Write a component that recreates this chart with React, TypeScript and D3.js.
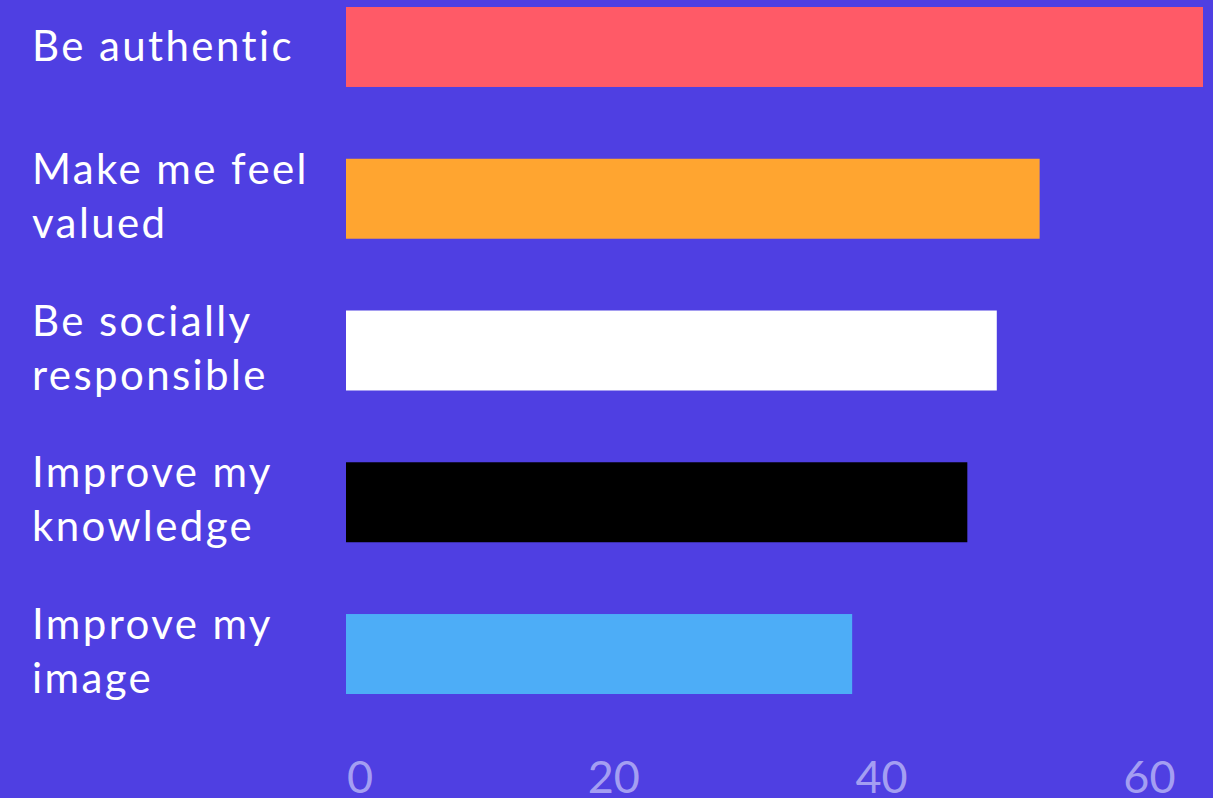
import React from "react";
import * as d3 from "d3";

const categories: string[][] = [
  ["Be authentic"],
  ["Make me feel", "valued"],
  ["Be socially", "responsible"],
  ["Improve my", "knowledge"],
  ["Improve my", "image"],
];
const values: number[] = [64, 51.8, 48.6, 46.4, 37.8];
const barColors: string[] = ["#FF5A67", "#FFA530", "#FFFFFF", "#000000", "#4DADF7"];
const tickValues: number[] = [0, 20, 40, 60];

const W = 1213;
const H = 798;
const BG = "#4F3FE2";
const FONT = "Lato, 'Noto Sans', sans-serif";

export default function App() {
  const x = d3.scaleLinear().domain([0, 64]).range([346, 1203]);
  const y = d3
    .scaleBand<number>()
    .domain(d3.range(values.length))
    .range([7, 694])
    .paddingInner(0.473)
    .paddingOuter(0);
  const bw = y.bandwidth();

  return (
    <div style={{ position: "absolute", left: 0, top: 0, width: W, height: H, overflow: "hidden" }}>
      <svg width={W} height={H} style={{ display: "block" }}>
        <rect x={0} y={0} width={W} height={H} fill={BG} />
        {values.map((v, i) => (
          <rect
            key={"b" + i}
            x={x(0)}
            y={y(i)!}
            width={x(v) - x(0)}
            height={bw}
            fill={barColors[i]}
          />
        ))}
        {categories.map((lines, i) => {
          const c = y(i)! + bw / 2;
          const base = lines.length === 1 ? [c + 14] : [c - 15, c + 39];
          return (
            <text
              key={"l" + i}
              fill="#FFFFFF"
              fontFamily={FONT}
              fontSize={42}
              letterSpacing={2.4}
              style={{ fontVariantLigatures: "none" }}
              x={32}
            >
              {lines.map((ln, j) => (
                <tspan key={j} x={32} y={base[j]}>
                  {ln}
                </tspan>
              ))}
            </text>
          );
        })}
        {tickValues.map((t, i) => (
          <text
            key={"t" + i}
            x={i === 0 ? x(t) + 1 : x(t)}
            y={793}
            textAnchor={i === 0 ? "start" : "middle"}
            fill="#A49EF2"
            fontFamily={FONT}
            fontSize={45}
          >
            {t}
          </text>
        ))}
      </svg>
    </div>
  );
}
